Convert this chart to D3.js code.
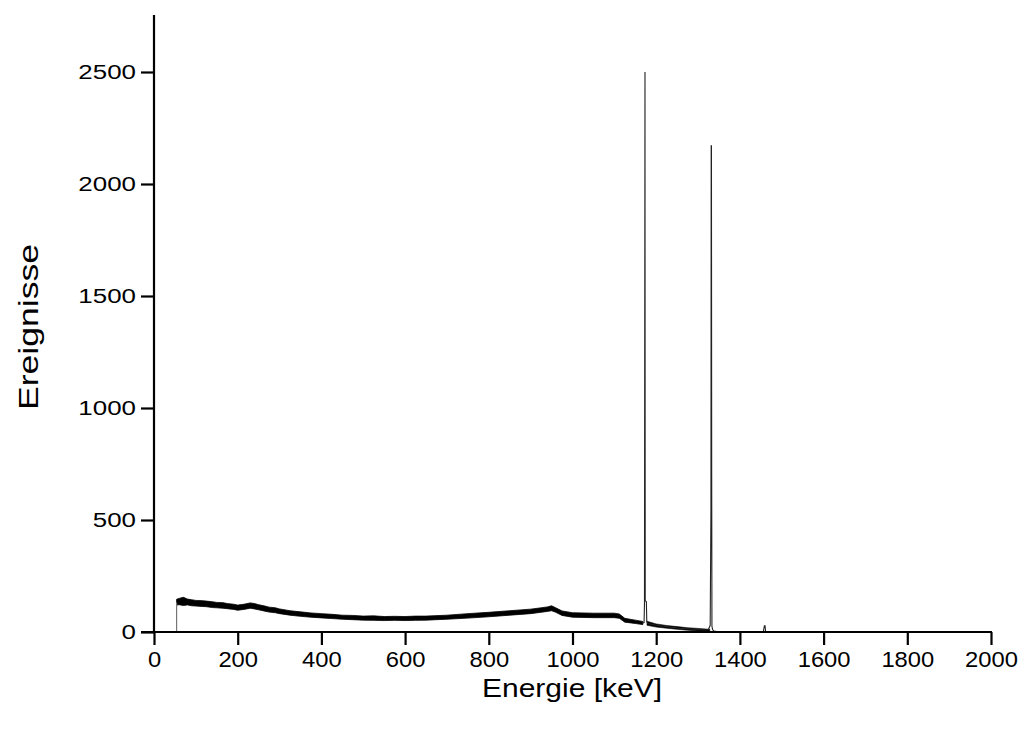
<!DOCTYPE html>
<html><head><meta charset="utf-8">
<script src="https://cdn.jsdelivr.net/npm/d3@7"></script>
<style>
body{margin:0;background:#fff;}
text{font-family:"Liberation Sans",Arial,sans-serif;fill:#000;}
</style></head>
<body>
<svg id="c" width="1021" height="729"></svg>
<script>
// ---- data ----
const xTicks = [0,200,400,600,800,1000,1200,1400,1600,1800,2000];
const yTicks = [0,500,1000,1500,2000,2500];
const xTitle = "Energie [keV]";
const yTitle = "Ereignisse";

// continuum (noise band: lower / upper envelope)
const contE  = [54,60,70,80,90,100,115,125,140,150,165,175,190,200,215,230,240,250,265,275,290,300,325,350,375,400,425,450,475,500,525,550,575,600,625,650,700,750,800,850,900,925,940,950,960,975,1000,1050,1100,1112,1125,1150,1168];
const contLo = [120,122,118,121,117,116,114,113,109,108,106,104,101,97,101,106,103,99,93,89,86,82,75,70,66,63,60,57,55,53,52,51,52,51,52,53,57,62,68,75,82,88,92,95,88,74,66,64,64,61,44,38,33];
const contHi = [146,150,155,147,144,141,140,138,135,132,131,127,124,120,124,130,127,122,116,111,108,103,95,90,85,82,79,75,74,71,72,69,70,69,71,71,75,82,88,95,102,108,112,117,108,94,86,84,84,80,61,53,47];

// low-energy edge
const edgeE = [54,54];
const edgeN = [0,132];

// Compton tail between the photopeaks (noise band)
const midE  = [1178,1200,1225,1250,1275,1300,1328];
const midLo = [30,22,17,12,8,5,3];
const midHi = [48,36,29,24,19,16,12];

// photopeaks and tail
const tailE = [1168,1171,1172,1172.6,1173.2,1173.8,1176.5,1177.5,1180,1200,1225,1250,1275,1300,1320,1325,1329,1330.8,1331.4,1332,1332.6,1333.2,1335,1338,1345,1400,1456,1458.5,1460,1461.5,1500,2000];
const tailN = [40,42,130,1350,2500,140,135,45,38,30,24,18,14,11,9,12,30,540,2170,2170,700,25,10,4,2,1,1,28,28,1,0,0];

// ---- drawing ----
const svg = d3.select("#c");
const x = d3.scaleLinear().domain([0,2000]).range([154,991]);
const y = d3.scaleLinear().domain([0,2750]).range([632,16]);

const band = (E,Lo,Hi) => d3.area().x((d,i)=>x(E[i])).y0((d,i)=>y(Lo[i])).y1((d,i)=>y(Hi[i]))(E);
svg.append("path").attr("d", band(contE,contLo,contHi)).attr("fill","#000").attr("stroke","#000").attr("stroke-width",0.8);
svg.append("path").attr("d", band(midE,midLo,midHi)).attr("fill","#000").attr("stroke","#000").attr("stroke-width",0.6);

const line = d3.line().x(d=>x(d[0])).y(d=>y(d[1]));
svg.append("path").attr("d", line(edgeE.map((e,i)=>[e,edgeN[i]]))).attr("fill","none").attr("stroke","#777").attr("stroke-width",1.2);
svg.append("path").attr("d", line(tailE.map((e,i)=>[e,tailN[i]]))).attr("fill","none").attr("stroke","#222").attr("stroke-width",1.1);

// axes
const xMinor = d3.range(0,2001,100).filter(v=>!xTicks.includes(v));
const yMinor = d3.range(0,2751,250).filter(v=>!yTicks.includes(v));

const gx = svg.append("g").attr("transform","translate(0,632)");
gx.call(d3.axisBottom(x).tickValues(xMinor).tickSize(7).tickFormat("")).call(g=>g.select(".domain").remove());
gx.call(d3.axisBottom(x).tickValues(xTicks).tickSize(13).tickFormat(d3.format("d")).tickPadding(6));
gx.selectAll("line,path").attr("stroke","#000").attr("stroke-width",2.2);
gx.select(".domain").attr("d","M141,0H992");
gx.selectAll("text").attr("font-size",22).attr("transform","scale(1.08,1)")
  .attr("font-family","Liberation Sans, Arial, sans-serif").attr("fill","#000");

const gy = svg.append("g").attr("transform","translate(154,0)");
gy.call(d3.axisLeft(y).tickValues(yMinor).tickSize(7).tickFormat("")).call(g=>g.select(".domain").remove());
gy.call(d3.axisLeft(y).tickValues(yTicks).tickSize(13).tickFormat(d3.format("d")).tickPadding(0));
gy.selectAll("line,path").attr("stroke","#000").attr("stroke-width",2.2);
gy.select(".domain").attr("d","M0,15V633");
gy.selectAll("text").attr("font-size",19.5).attr("x",-18/1.33).attr("transform","scale(1.33,1)")
  .attr("font-family","Liberation Sans, Arial, sans-serif").attr("fill","#000");

// titles
svg.append("g").attr("transform","translate(572,697) scale(1.2,1)")
  .append("text").attr("text-anchor","middle").attr("font-size",25).text(xTitle);
svg.append("g").attr("transform","translate(38,327) rotate(-90) scale(1.27,1)")
  .append("text").attr("text-anchor","middle").attr("font-size",28).text(yTitle);
</script>
</body></html>
